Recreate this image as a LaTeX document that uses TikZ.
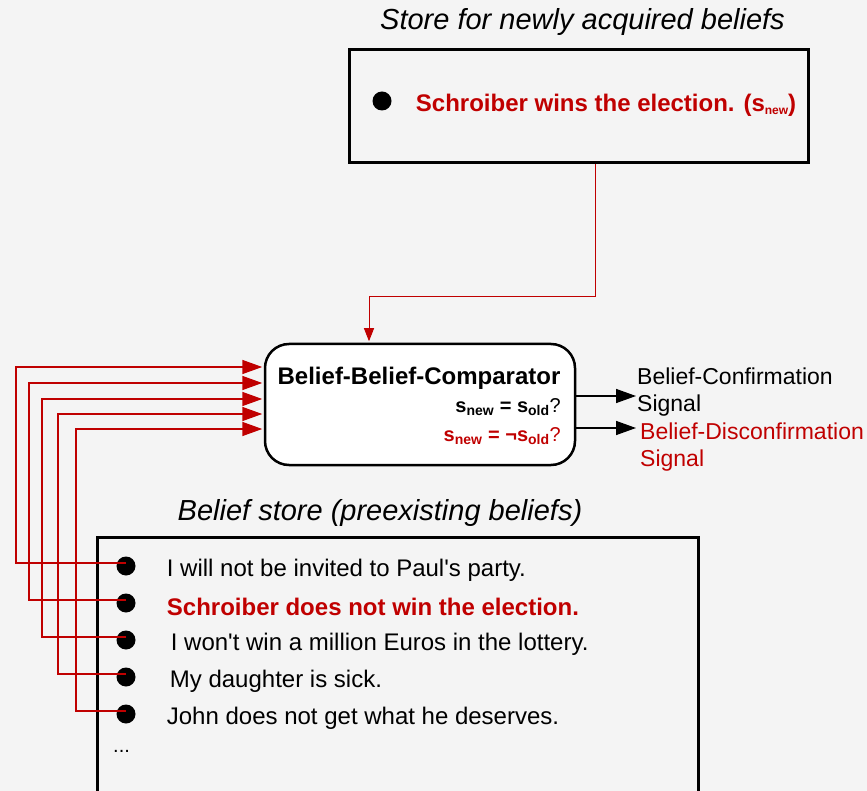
\documentclass[tikz,border=0pt]{standalone}
\usepackage{fontspec}
\setmainfont{Liberation Sans}
\usetikzlibrary{arrows.meta,positioning}
\definecolor{beliefred}{HTML}{C00000}
\definecolor{paper}{HTML}{F4F4F4}

\begin{document}
\begin{tikzpicture}[x=1pt,y=-1pt,>={Triangle[length=20pt,width=14pt]},
                    every node/.style={inner sep=0pt},
                    store/.style={draw,line width=3pt},
                    comparator/.style={draw,line width=2.5pt,rounded corners=24pt,fill=white},
                    dot/.style={circle,fill=black,minimum size=19pt},
                    item/.style={font=\fontsize{24}{28}\selectfont,yshift=-4pt},
                    heading/.style={font=\fontsize{29}{33}\selectfont\itshape},
                    feed/.style={->,draw=beliefred,line width=1.5pt,shorten >=1.5pt},
                    signal/.style={->,line width=1.5pt}]

	\useasboundingbox (0,0) rectangle (867,791);
	\fill[paper] (0,0) rectangle (867,791);

	% store for new beliefs
	\node[store,minimum width=459pt,minimum height=113pt] (newstore) at (578.5,106.5) {};
	\node[heading] (newtitle) [above=13pt of newstore,xshift=4pt] {Store for newly acquired beliefs};
	\node[dot] (nb) at (382,101) {};
	\node[item,text=beliefred,font=\bfseries\fontsize{24}{28}\selectfont] (news) [right=24pt of nb]
		{Schroiber wins the election. (s\raisebox{-3pt}{\fontsize{12}{12}\selectfont new})};

	% comparator
	\node[comparator,minimum width=310pt,minimum height=121pt] (comp) at (420,404.5) {};
	\node[font=\bfseries\fontsize{24}{28}\selectfont] (cmptitle) at (419,378) {Belief-Belief-Comparator};
	\node[anchor=east,font=\fontsize{20}{24}\selectfont] (same) at (561,407)
		{\textbf{s\textsubscript{new} = s\textsubscript{old}}?};
	\node[anchor=east,text=beliefred,font=\fontsize{20}{24}\selectfont] (differ) at (561,436)
		{\textbf{s\textsubscript{new} = ¬s\textsubscript{old}}?};

	% output signals
	\coordinate (o1) at (636,396);
	\coordinate (o2) at (636,428);
	\node[anchor=west,align=left,font=\fontsize{23}{26.5}\selectfont] (conf) at (637,392)
		{Belief-Confirmation\\Signal};
	\node[anchor=west,align=left,text=beliefred,font=\fontsize{23}{26.5}\selectfont] (disconf) at (640,447)
		{Belief-Disconfirmation\\Signal};
	\draw[signal] (comp.east |- o1) -- (o1);
	\draw[signal] (comp.east |- o2) -- (o2);

	% belief store
	\node[store,minimum width=601pt,minimum height=313pt] (oldstore) at (397.5,693.5) {};
	\node[heading] (oldtitle) at (380,513) {Belief store (preexisting beliefs)};

	\node[dot] (b1) at (126,566) {};
	\node[dot] (b2) at (126,603) {};
	\node[dot] (b3) at (126,640) {};
	\node[dot] (b4) at (126,677) {};
	\node[dot] (b5) at (126,714) {};

	\node[item] (i1) [right=31pt of b1] {I will not be invited to Paul\textquotesingle s party.};
	\node[item,text=beliefred,font=\bfseries\fontsize{24}{28}\selectfont] (i2) [right=31pt of b2]
		{Schroiber does not win the election.};
	\node[item] (i3) [right=35pt of b3] {I won\textquotesingle t win a million Euros in the lottery.};
	\node[item] (i4) [right=34pt of b4] {My daughter is sick.};
	\node[item] (i5) [right=31pt of b5] {John does not get what he deserves.};
	\node[anchor=west,font=\fontsize{20}{24}\selectfont] (more) at (113,751) {...};

	% feeds into the comparator
	\coordinate (k1) at (16,367);
	\coordinate (k2) at (29,383);
	\coordinate (k3) at (42,399);
	\coordinate (k4) at (58,414);
	\coordinate (k5) at (76,429);

	\draw[feed] ([yshift=3pt]b1.center) -| (k1) -- (comp.west |- k1);
	\draw[feed] ([yshift=3pt]b2.center) -| (k2) -- (comp.west |- k2);
	\draw[feed] ([yshift=3pt]b3.center) -| (k3) -- (comp.west |- k3);
	\draw[feed] ([yshift=3pt]b4.center) -| (k4) -- (comp.west |- k4);
	\draw[feed] ([yshift=3pt]b5.center) -| (k5) -- (comp.west |- k5);

	\coordinate (drop) at (595,297);
	\coordinate (entry) at (369,297);
	\draw[feed,line width=1pt,>={Triangle[length=13pt,width=10pt]}]
		(newstore.south -| drop) -- (drop) -- (entry) -- (comp.north -| entry);

\end{tikzpicture}
\end{document}
